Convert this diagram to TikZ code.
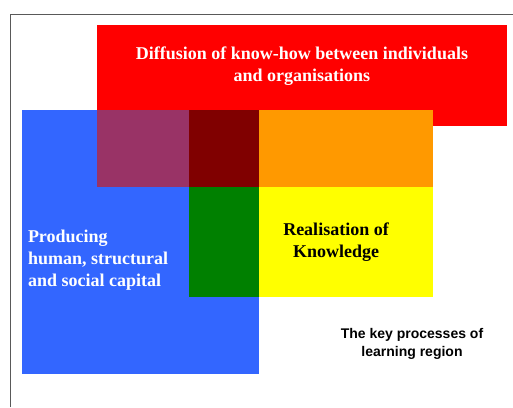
\documentclass[tikz,border=0pt]{standalone}
\usepackage{fontspec}
\setmainfont{Liberation Serif}
\setsansfont{Liberation Sans}
\usetikzlibrary{positioning}
\definecolor{diffred}{HTML}{FF0000}
\definecolor{capblue}{HTML}{3366FF}
\definecolor{mixpurple}{HTML}{993366}
\definecolor{mixmaroon}{HTML}{800000}
\definecolor{mixorange}{HTML}{FF9900}
\definecolor{mixgreen}{HTML}{008000}
\definecolor{realyellow}{HTML}{FFFF00}
\newcommand{\colwidth}{70pt}
\newcommand{\rowheight}{77pt}

\begin{document}
\begin{tikzpicture}[x=1pt, y=-1pt, node distance=0pt, outer sep=0pt, inner sep=0pt]
\tikzstyle{area}=[rectangle, minimum width=\colwidth, minimum height=\rowheight, anchor=north west]
\tikzstyle{whitetxt}=[text=white, font=\fontsize{18}{22}\selectfont\bfseries]
\tikzstyle{blacktxt}=[text=black, font=\fontsize{18}{22}\selectfont\bfseries]
\useasboundingbox (0,0) rectangle (513,407);
\fill[white] (0,0) rectangle (513,407);

% frame of the slide
\coordinate (framebl) at (10,407);
\coordinate (frametl) at (10,14);
\coordinate (frametr) at (513,14);
\draw[gray!70!black, line width=0.9pt] (framebl) -- (frametl) -- (frametr);

% the three process areas
\node[area, fill=diffred, minimum width=410pt, minimum height=101pt] (diffusion) at (97,25) {};
\node[area, fill=capblue, minimum width=237pt, minimum height=264pt] (capital) at (22,110) {};

% overlaps
\node[area, fill=mixpurple, minimum width=92pt] (purple) at (97,110) {};
\node[area, fill=mixmaroon] (maroon) [right = 0pt of purple] {};
\node[area, fill=mixorange, minimum width=174pt] (orange) [right = 0pt of maroon] {};
\node[area, fill=mixgreen, minimum height=110pt] (green) [below = 0pt of maroon] {};
\node[area, fill=realyellow, minimum width=174pt, minimum height=110pt] (realisation) [below = 0pt of orange] {};

% labels
\node[whitetxt, align=center] (difftxt) at (302,66) {Diffusion of know-how between individuals\\and organisations};
\node[whitetxt, align=left, anchor=west] (captxt) at (28,260) {Producing\\human, structural\\and social capital};
\node[blacktxt, align=center] (realtxt) at (336,242) {Realisation of\\Knowledge};
\node[align=center, font=\sffamily\bfseries\fontsize{14}{18}\selectfont] (keytxt) at (412,344) {The key processes of\\learning region};

\end{tikzpicture}
\end{document}
